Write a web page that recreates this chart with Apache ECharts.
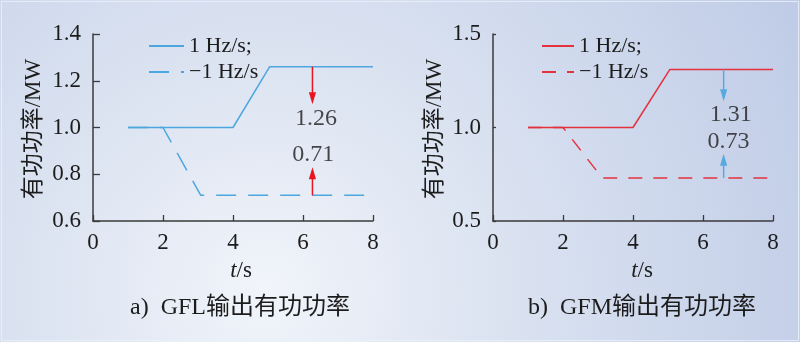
<!DOCTYPE html>
<html>
<head>
<meta charset="utf-8">
<script src="https://cdn.jsdelivr.net/npm/echarts@6/dist/echarts.min.js"></script>
<style>
  html, body { margin: 0; padding: 0; }
  #chart { width: 800px; height: 342px; }
</style>
</head>
<body>
<div id="chart"></div>
<script>
// Active power step responses of the grid-following (GFL) and grid-forming (GFM) units
// under a +1 Hz/s and a -1 Hz/s frequency ramp.
const timeRampUp = [1, 4, 5.05, 8];            // t/s, +1 Hz/s case
const timeRampDownGfl = [1, 2, 3.08, 8];       // t/s, -1 Hz/s case (GFL)
const timeRampDownGfm = [1, 2, 3.12, 8];       // t/s, -1 Hz/s case (GFM)
const gflPowerUp = [1.0, 1.0, 1.26, 1.26];     // MW
const gflPowerDown = [1.0, 1.0, 0.71, 0.71];   // MW
const gfmPowerUp = [1.0, 1.0, 1.31, 1.31];     // MW
const gfmPowerDown = [1.0, 1.0, 0.73, 0.73];   // MW

const legendNames = ['1 Hz/s;', '\u22121 Hz/s'];
const xTicks = [0, 2, 4, 6, 8];
const gflTicks = [0.6, 0.8, 1.0, 1.2, 1.4];
const gfmTicks = [0.5, 1.0, 1.5];

// annotation arrows: [t, from value, to value]
const gflArrows = [[6.27, gflPowerUp[3], 1.10], [6.27, gflPowerDown[3], 0.83]];
const gfmArrows = [[6.59, gfmPowerUp[3], 1.14], [6.59, gfmPowerDown[3], 0.86]];

const SERIF = '"Liberation Serif", "Times New Roman", serif';
const MIXED = '"Liberation Serif", "Noto Sans CJK SC", serif';
const BLUE = '#4ea6de';
const RED = '#e3323e';
const ARROW_RED = '#e8141f';
const ARROW_BLUE = '#56aae0';
const INK = '#1c1c1c';

const zip = (xs, ys) => xs.map((x, i) => [x, ys[i]]);

function arrowRenderer(color) {
  return function (params, api) {
    const p0 = api.coord([api.value(0), api.value(1)]);
    const p1 = api.coord([api.value(0), api.value(2)]);
    const dir = p1[1] > p0[1] ? 1 : -1;
    const headLen = 12, headHalf = 3.6;
    const base = p1[1] - dir * headLen;
    return {
      type: 'group',
      children: [
        { type: 'line', shape: { x1: p0[0], y1: p0[1], x2: p1[0], y2: base + dir },
          style: { stroke: color, lineWidth: 1.5 } },
        { type: 'polygon', shape: { points: [[p1[0], p1[1]], [p1[0] - headHalf, base], [p1[0] + headHalf, base]] },
          style: { fill: color } }
      ]
    };
  };
}

function xAxisCfg(gridIndex) {
  return {
    type: 'value', gridIndex, min: 0, max: 8, interval: 2,
    axisLine: { onZero: false, lineStyle: { color: '#3a3a3a', width: 1.5 } },
    axisTick: { inside: true, length: 6, lineStyle: { color: '#3a3a3a', width: 1.3 } },
    axisLabel: { fontFamily: SERIF, fontSize: 23, color: INK, margin: 10,
                 formatter: v => xTicks.includes(v) ? String(v) : '' },
    splitLine: { show: false }
  };
}

function yAxisCfg(gridIndex, ticks, interval, tickLen) {
  return {
    type: 'value', gridIndex, min: ticks[0], max: ticks[ticks.length - 1], interval,
    axisLine: { show: true, onZero: false, lineStyle: { color: '#3a3a3a', width: 1.5 } },
    axisTick: { show: true, inside: true, length: tickLen, lineStyle: { color: '#3a3a3a', width: 1.3 } },
    axisLabel: { fontFamily: SERIF, fontSize: 23, color: INK, margin: 12,
                 formatter: v => v.toFixed(1) },
    splitLine: { show: false }
  };
}

function lineSeries(name, xi, data, color, dash) {
  return {
    type: 'line', name, xAxisIndex: xi, yAxisIndex: xi, data,
    symbol: 'none', animation: false, z: 3,
    lineStyle: { color, width: 1.5, type: dash || 'solid' },
    itemStyle: { color }
  };
}

function valueLabels(xi, items) {
  return {
    type: 'scatter', xAxisIndex: xi, yAxisIndex: xi, symbolSize: 0, silent: true,
    animation: false,
    data: items.map(it => ({ value: [it[0], it[1]], name: it[2].toFixed(2) })),
    label: { show: true, position: 'inside', formatter: '{b}',
             fontFamily: SERIF, fontSize: 24, color: INK }
  };
}

function legendCfg(prefix, left, iconWidth) {
  return {
    orient: 'vertical', left, top: 30, itemWidth: iconWidth, itemHeight: 14, itemGap: 4,
    data: [prefix + legendNames[0], prefix + legendNames[1]],
    formatter: n => n.slice(prefix.length),
    itemStyle: { opacity: 0 },
    textStyle: { fontFamily: SERIF, fontSize: 22, color: INK },
    selectedMode: false
  };
}

const chart = echarts.init(document.getElementById('chart'), null, { renderer: 'canvas' });

chart.setOption({
  animation: false,
  backgroundColor: {
    type: 'radial', x: 0.33, y: 0.85, r: 1.75,
    colorStops: [
      { offset: 0, color: '#f1f4fa' },
      { offset: 0.4, color: '#dbe3f1' },
      { offset: 1, color: '#c0cce7' }
    ]
  },
  grid: [
    { left: 93, width: 280, top: 34, height: 187 },
    { left: 493, width: 280, top: 34, height: 187 }
  ],
  xAxis: [xAxisCfg(0), xAxisCfg(1)],
  yAxis: [yAxisCfg(0, gflTicks, 0.2, 7), yAxisCfg(1, gfmTicks, 0.5, 3)],
  legend: [legendCfg('GFL ', 143, 35), legendCfg('GFM ', 536, 32)],
  series: [
    lineSeries('GFL ' + legendNames[1], 0, zip(timeRampDownGfl, gflPowerDown), BLUE, [20, 12]),
    lineSeries('GFL ' + legendNames[0], 0, zip(timeRampUp, gflPowerUp), BLUE),
    lineSeries('GFM ' + legendNames[1], 1, zip(timeRampDownGfm, gfmPowerDown), RED, [14, 11]),
    lineSeries('GFM ' + legendNames[0], 1, zip(timeRampUp, gfmPowerUp), RED),
    { type: 'custom', xAxisIndex: 0, yAxisIndex: 0, data: gflArrows, silent: true,
      renderItem: arrowRenderer(ARROW_RED), z: 4 },
    { type: 'custom', xAxisIndex: 1, yAxisIndex: 1, data: gfmArrows, silent: true,
      renderItem: arrowRenderer(ARROW_BLUE), z: 4 },
    valueLabels(0, [[6.37, 1.039, gflPowerUp[3]], [6.29, 0.882, gflPowerDown[3]]]),
    valueLabels(1, [[6.79, 1.067, gfmPowerUp[3]], [6.73, 0.924, gfmPowerDown[3]]])
  ],
  graphic: [
    { type: 'rect', shape: { x: 1.5, y: 1.5, width: 797, height: 339 }, silent: true,
      style: { fill: 'none', stroke: 'rgba(235,241,250,0.8)', lineWidth: 1 } },
    { type: 'text', x: 34, y: 129, rotation: Math.PI / 2, silent: true,
      style: { text: '有功功率/MW', font: '23px ' + MIXED, fill: INK, align: 'center', verticalAlign: 'middle' } },
    { type: 'text', x: 435, y: 129, rotation: Math.PI / 2, silent: true,
      style: { text: '有功功率/MW', font: '23px ' + MIXED, fill: INK, align: 'center', verticalAlign: 'middle' } },
    { type: 'text', x: 241, y: 271, silent: true,
      style: { text: '{i|t}{n|/s}', align: 'center', verticalAlign: 'middle',
               rich: { i: { fontStyle: 'italic', fontSize: 23, fontFamily: SERIF, fill: INK },
                       n: { fontSize: 23, fontFamily: SERIF, fill: INK } } } },
    { type: 'text', x: 642, y: 271, silent: true,
      style: { text: '{i|t}{n|/s}', align: 'center', verticalAlign: 'middle',
               rich: { i: { fontStyle: 'italic', fontSize: 23, fontFamily: SERIF, fill: INK },
                       n: { fontSize: 23, fontFamily: SERIF, fill: INK } } } },
    { type: 'text', x: 240, y: 308, silent: true,
      style: { text: 'a)  GFL输出有功功率', font: '24px ' + MIXED, fill: INK, align: 'center', verticalAlign: 'middle' } },
    { type: 'text', x: 642, y: 308, silent: true,
      style: { text: 'b)  GFM输出有功功率', font: '24px ' + MIXED, fill: INK, align: 'center', verticalAlign: 'middle' } }
  ]
});
</script>
</body>
</html>
